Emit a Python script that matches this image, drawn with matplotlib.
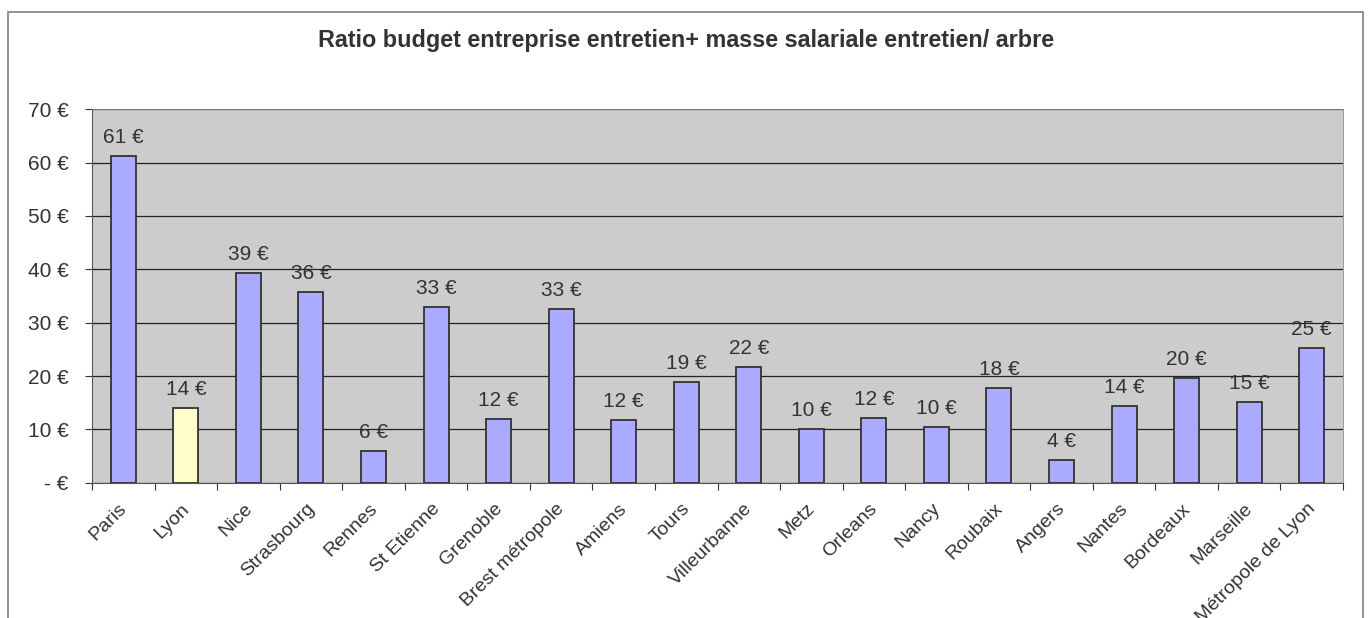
import matplotlib.pyplot as plt
from matplotlib.patches import Rectangle
from matplotlib.transforms import ScaledTranslation

plt.rcParams['font.family'] = ['Liberation Sans', 'DejaVu Sans']

# villes et ratio (€ / arbre)
VILLES = ['Paris', 'Lyon', 'Nice', 'Strasbourg', 'Rennes', 'St Etienne', 'Grenoble',
          'Brest métropole', 'Amiens', 'Tours', 'Villeurbanne', 'Metz', 'Orleans',
          'Nancy', 'Roubaix', 'Angers', 'Nantes', 'Bordeaux', 'Marseille',
          'Métropole de Lyon']
RATIOS = [61.3, 14.0, 39.3, 35.8, 6.0, 33.0, 12.0, 32.6, 11.8, 18.8, 21.7, 10.0,
          12.2, 10.4, 17.7, 4.3, 14.3, 19.7, 15.1, 25.3]
Y_TICKS = [0, 10, 20, 30, 40, 50, 60, 70]
Y_LABELS = ['- €', '10 €', '20 €', '30 €', '40 €', '50 €', '60 €', '70 €']
TITRE = 'Ratio budget entreprise entretien+ masse salariale entretien/ arbre'

TXT = '#333333'
FS = 15


def main():
    fig = plt.figure(figsize=(13.69, 6.18), dpi=100)
    ax = fig.add_axes([92 / 1369, 1 - 482.7 / 618, (1343 - 92) / 1369, (482.7 - 109.3) / 618])

    # cadre du graphique (coupé en bas)
    fig.patches.append(Rectangle((8 / 1369, -0.1), (1363 - 8) / 1369, 1.1 - 12 / 618,
                                 transform=fig.transFigure, fill=False,
                                 edgecolor='#808080', linewidth=1.2))

    ax.set_facecolor('#CCCCCC')
    x = list(range(len(VILLES)))
    colors = ['#FFFFCC' if v == 'Lyon' else '#AAAAFF' for v in VILLES]
    ax.bar(x, RATIOS, width=0.4, color=colors, edgecolor='#333333', linewidth=1.3, zorder=3)

    for xi, v in zip(x, RATIOS):
        ax.text(xi, v + 1.7, '{:.0f} €'.format(v), ha='center', va='bottom',
                fontsize=FS, color=TXT, zorder=4)

    ax.set_xlim(-0.5, len(VILLES) - 0.5)
    ax.set_ylim(0, 70)
    ax.set_yticks(Y_TICKS)
    ax.set_yticklabels(Y_LABELS, fontsize=FS, color=TXT)
    ax.yaxis.grid(True, color='#222222', linewidth=0.9, zorder=0)
    ax.set_axisbelow(True)

    # ticks aux limites des catégories, labels au centre
    ax.set_xticks([i - 0.5 for i in range(len(VILLES) + 1)])
    ax.set_xticklabels([])
    ax.set_xticks(x, minor=True)
    ax.set_xticklabels(VILLES, minor=True, rotation=45, ha='right', va='top',
                       rotation_mode='anchor', fontsize=14, color=TXT)
    ax.tick_params(axis='x', which='minor', length=0, pad=9)
    ax.tick_params(axis='x', which='major', length=5, color='#333333', direction='out')
    ax.tick_params(axis='y', length=5, color='#333333', direction='out', pad=12)
    decal = ScaledTranslation(-5 / 100, -5 / 100, fig.dpi_scale_trans)
    for lbl in ax.get_xticklabels(minor=True):
        lbl.set_transform(lbl.get_transform() + decal)

    for side in ['left', 'bottom']:
        ax.spines[side].set_color('#555555')
    for side in ['top', 'right']:
        ax.spines[side].set_color('#888888')
        ax.spines[side].set_linewidth(0.6)

    fig.text(686 / 1369, 1 - 41 / 618, TITRE, ha='center', va='center',
             fontsize=16.8, fontweight='bold', color=TXT)

    fig.savefig('out.png', dpi=100)


if __name__ == '__main__':
    main()
